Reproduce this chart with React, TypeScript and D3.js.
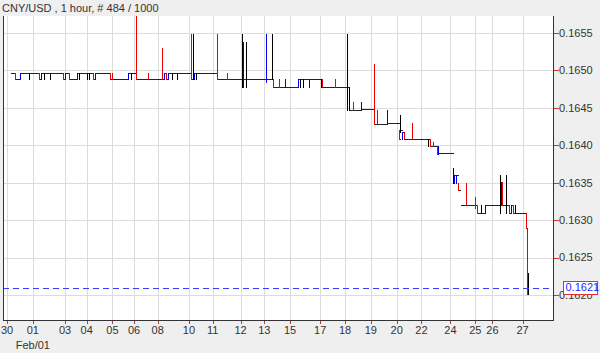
import React from 'react';
import * as d3 from 'd3';

const W = 600;
const H = 353;
const title = 'CNY/USD , 1 hour, # 484 / 1000';

const dayLabels = ['30', '01', '03', '04', '05', '06', '08', '10', '11', '12', '13', '15', '17', '18', '19', '20', '22', '24', '25', '26', '27'];
const dayStartIndex = [0, 24, 54, 74, 98, 118, 140, 169, 191, 217, 239, 263, 291, 314, 338, 362, 385, 412, 435, 451, 479];
const monthLabel = 'Feb/01';
const monthLabelIndex = 24;
const barCount = 484;

const priceTicks = [0.162, 0.1625, 0.163, 0.1635, 0.164, 0.1645, 0.165, 0.1655];
const lastPrice = 0.1621;

// price levels
const A = 0.16497, B = 0.16488, C = 0.16478, D = 0.16447, E = 0.16429;
const F = 0.16409, F2 = 0.16399, G = 0.16389, Hh = 0.16349, H2 = 0.1634;
const I = 0.1632, J = 0.1631, K = 0.1621, TOP = 0.16575, S = 0.16549;

// [bar index, open, high, low, close] — bars with a visible range; flat bars in between
const bars: [number, number, number, number, number][] = [
  [3, A, A, A, A],
  [7, A, A, B, B],
  [12, B, A, B, A],
  [20, A, A, B, A],
  [30, A, A, B, B],
  [32, B, A, B, A],
  [34, A, A, B, A],
  [40, A, A, B, A],
  [52, A, A, B, B],
  [54, B, A, B, A],
  [58, A, A, B, B],
  [65, B, A, B, A],
  [67, A, A, B, A],
  [74, A, A, B, A],
  [76, A, A, B, A],
  [80, A, A, B, B],
  [82, B, A, B, A],
  [96, A, A, B, B],
  [98, A, A, B, B],
  [112, B, A, B, A],
  [115, A, A, B, A],
  [120, A, TOP, B, B],
  [131, A, A, B, B],
  [144, A, 0.1653, B, B],
  [146, B, A, B, A],
  [148, A, A, B, B],
  [150, B, A, B, A],
  [153, A, A, B, A],
  [158, A, A, B, A],
  [171, A, S, B, B],
  [173, B, S, B, B],
  [174, B, A, B, A],
  [176, A, A, B, A],
  [195, A, S, B, B],
  [204, A, A, B, B],
  [218, B, S, C, B],
  [219, C, 0.16538, C, B],
  [222, B, 0.16538, C, B],
  [241, 0.16485, S, 0.16485, B],
  [246, B, S, B, B],
  [247, B, B, C, C],
  [253, B, B, C, C],
  [258, 0.16477, B, C, C],
  [270, C, B, C, B],
  [272, B, B, C, B],
  [275, B, B, C, B],
  [281, 0.16487, B, C, B],
  [292, B, B, C, B],
  [293, B, B, C, C],
  [305, B, B, C, C],
  [316, C, S, D, C],
  [318, D, C, D, D],
  [321, 0.16458, 0.16458, D, D],
  [329, D, 0.16458, D, 0.16448],
  [341, D, 0.16508, E, E],
  [344, D, D, E, E],
  [353, E, D, E, 0.1643],
  [364, 0.1642, 0.1642, F, F],
  [365, 0.1642, 0.1644, 0.16418, 0.1642],
  [367, F, 0.16418, F, 0.16418],
  [369, 0.16418, 0.16418, F, F],
  [376, 0.1643, 0.1643, F, F],
  [391, F, F, F2, F],
  [393, F, F, F2, F2],
  [396, 0.16405, 0.16405, F2, F2],
  [399, F2, F2, G, G],
  [400, G, F2, G, 0.1639],
  [414, 0.16355, 0.1637, Hh, 0.16355],
  [415, Hh, 0.1636, Hh, 0.1636],
  [417, 0.1635, 0.1636, Hh, 0.1636],
  [419, Hh, Hh, H2, H2],
  [421, I, I, I, I],
  [426, 0.1635, 0.1635, I, I],
  [435, 0.16331, 0.16331, 0.16316, I],
  [437, I, I, J, J],
  [440, J, I, J, J],
  [444, J, I, J, I],
  [458, I, 0.1636, J, I],
  [459, I, 0.16351, I, 0.16351],
  [460, 0.16351, 0.16351, I, I],
  [464, I, 0.1636, J, I],
  [466, I, I, J, J],
  [468, J, I, J, I],
  [470, I, I, J, J],
  [472, J, I, J, J],
  [482, J, J, 0.16289, 0.16289],
  [483, 0.16289, 0.16289, 0.16201, K],
  [484, K, 0.16229, 0.16201, K],
];

const FONT = '"Liberation Sans", Arial, sans-serif';

export default function App() {
  const plot = { left: 3, right: 553, top: 16, bottom: 320 };
  const x = d3.scaleLinear().domain([0, barCount]).range([7, 528]);
  const y = d3.scaleLinear().domain([0.162, 0.1655]).range([295, 33]);
  const px = (v: number) => Math.round(x(v)) + 0.5;
  const py = (v: number) => Math.round(y(v)) + 0.5;

  const colorOf = (o: number, c: number) => (c < o ? '#ee0000' : c > o ? '#0000ee' : '#000000');

  const flats = bars.slice(0, -1).map((b, k) => ({
    x1: px(b[0]),
    x2: px(bars[k + 1][0]),
    y: py(b[4]),
  }));

  return (
    <svg
      width={W}
      height={H}
      style={{ position: 'absolute', left: 0, top: 0, background: '#efefef' }}
      fontFamily={FONT}
    >
      <defs>
        <clipPath id="plotClip">
          <rect x={plot.left} y={plot.top} width={plot.right - plot.left} height={plot.bottom - plot.top} />
        </clipPath>
      </defs>
      <rect x={0} y={0} width={W} height={H} fill="#efefef" />
      <rect x={plot.left} y={plot.top} width={plot.right - plot.left} height={plot.bottom - plot.top} fill="#ffffff" />

      {/* grid */}
      <g shapeRendering="crispEdges" stroke="#dcdcdc" strokeWidth={1}>
        {priceTicks.map((t) => (
          <line key={'h' + t} x1={plot.left} x2={plot.right} y1={py(t)} y2={py(t)} />
        ))}
        {dayStartIndex.map((d, k) => (
          <line key={'v' + k} x1={px(d)} x2={px(d)} y1={plot.top} y2={plot.bottom} />
        ))}
      </g>

      {/* bars */}
      <g clipPath="url(#plotClip)" shapeRendering="crispEdges">
        {flats.map((f, k) => (
          <line key={'f' + k} x1={f.x1} x2={f.x2} y1={f.y} y2={f.y} stroke="#222" strokeWidth={1} />
        ))}
        {bars.map((b, k) => {
          const [i, o, h, l, c] = b;
          if (h === l) return null;
          return (
            <line
              key={'b' + k}
              x1={px(i)}
              x2={px(i)}
              y1={Math.round(y(h))}
              y2={Math.round(y(l)) + 1}
              stroke={colorOf(o, c)}
              strokeWidth={1}
            />
          );
        })}
        <line
          x1={plot.left}
          x2={plot.right}
          y1={py(lastPrice)}
          y2={py(lastPrice)}
          stroke="#3c3cff"
          strokeWidth={1}
          strokeDasharray="6,4"
        />
      </g>

      {/* frame */}
      <g shapeRendering="crispEdges" stroke="#333" strokeWidth={1}>
        <line x1={plot.left + 0.5} x2={plot.left + 0.5} y1={plot.top} y2={plot.bottom} />
        <line x1={plot.right + 0.5} x2={plot.right + 0.5} y1={plot.top} y2={plot.bottom + 1} />
        <line x1={plot.left} x2={plot.right + 1} y1={plot.bottom + 0.5} y2={plot.bottom + 0.5} />
      </g>

      {/* right axis */}
      <g fontSize={11} fill="#333">
        {priceTicks.map((t) => (
          <g key={'yt' + t}>
            <line x1={plot.right + 1} x2={plot.right + 6} y1={py(t)} y2={py(t)} stroke="#cc3333" shapeRendering="crispEdges" />
            <text x={559} y={y(t)} dy="0.35em">
              {t.toFixed(4)}
            </text>
          </g>
        ))}
        <rect x={563.5} y={Math.round(y(lastPrice)) - 6.5} width={34} height={13} fill="#ffffff" stroke="#e03030" />
        <text x={565.5} y={y(lastPrice)} dy="0.35em" fill="#2828ff">
          {lastPrice.toFixed(4)}
        </text>
      </g>

      {/* bottom axis */}
      <g fontSize={11} fill="#333">
        {dayStartIndex.map((d, k) => (
          <g key={'xt' + k}>
            <line x1={px(d)} x2={px(d)} y1={plot.bottom + 1} y2={plot.bottom + 4} stroke="#cc3333" shapeRendering="crispEdges" />
            <text x={x(d)} y={334} textAnchor="middle">
              {dayLabels[k]}
            </text>
          </g>
        ))}
        <text x={x(monthLabelIndex)} y={349} textAnchor="middle">
          {monthLabel}
        </text>
      </g>

      <text x={2} y={12} fontSize={11} fill="#333">
        {title}
      </text>
    </svg>
  );
}
